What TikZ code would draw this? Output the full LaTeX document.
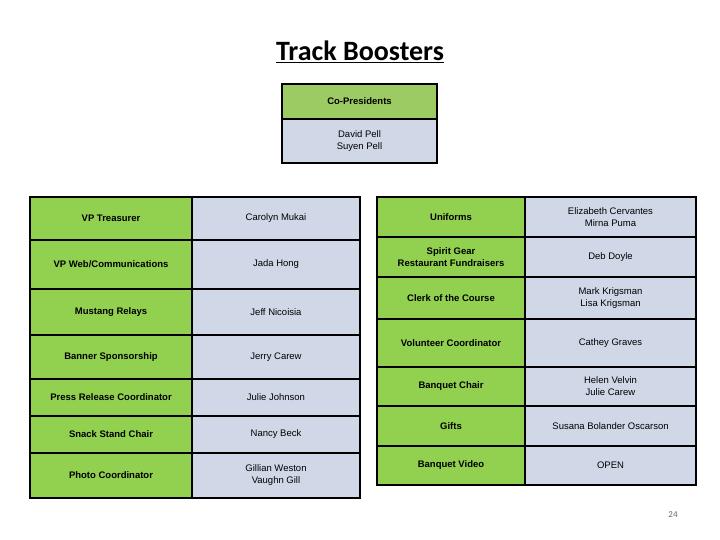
\documentclass[tikz,border=0pt]{standalone}
\usepackage{fontspec}
\setmainfont{Liberation Sans}
\newfontfamily\calib{Carlito}
\definecolor{green1}{HTML}{92D050}
\definecolor{green2}{HTML}{9BCB62}
\definecolor{blue1}{HTML}{D0D8E8}
\tikzset{
  tcell/.style={draw=black,line width=1.3pt,inner sep=0pt,align=center,font=\fontsize{9.5}{12}\selectfont},
  trole/.style={tcell,fill=green1,font=\fontsize{9.5}{12}\selectfont\bfseries},
  tpers/.style={tcell,fill=blue1}}
\newcommand{\lrow}[5]{%
  \node[trole,minimum width=162pt,minimum height={#2pt-#1pt}] (l#5a) at (111,{(#1+#2)/2}) {#3};
  \node[tpers,minimum width=168pt,minimum height={#2pt-#1pt}] (l#5b) at (276,{(#1+#2)/2}) {#4};}
\newcommand{\rrow}[5]{%
  \node[trole,minimum width=148pt,minimum height={#2pt-#1pt}] (r#5a) at (451,{(#1+#2)/2}) {#3};
  \node[tpers,minimum width=171pt,minimum height={#2pt-#1pt}] (r#5b) at (610.5,{(#1+#2)/2}) {#4};}
\begin{document}
\begin{tikzpicture}[x=1pt,y=-1pt]
\useasboundingbox (0,0) rectangle (720,540);
\node[font=\calib\fontsize{28}{32}\selectfont\bfseries] (title) at (360,52) {\underline{Track Boosters}};
\node[trole,fill=green2,minimum width=155pt,minimum height=35pt] (cp) at (359.5,101.5) {Co-Presidents};
\node[tpers,minimum width=155pt,minimum height=44pt] (cpn) at (359.5,141) {David Pell\\Suyen Pell};
\lrow{197}{240}{VP Treasurer}{Carolyn Mukai}{1}
\lrow{240}{289}{VP Web/Communications}{Jada Hong}{2}
\lrow{289}{335}{Mustang Relays}{Jeff Nicoisia}{3}
\lrow{335}{379}{Banner Sponsorship}{Jerry Carew}{4}
\lrow{379}{416}{Press Release Coordinator}{Julie Johnson}{5}
\lrow{416}{453}{Snack Stand Chair}{Nancy Beck}{6}
\lrow{453}{498}{Photo Coordinator}{Gillian Weston\\Vaughn Gill}{7}
\rrow{197}{237}{Uniforms}{Elizabeth Cervantes\\Mirna Puma}{1}
\rrow{237}{277}{Spirit Gear\\Restaurant Fundraisers}{Deb Doyle}{2}
\rrow{277}{319}{Clerk of the Course}{Mark Krigsman\\Lisa Krigsman}{3}
\rrow{319}{367}{Volunteer Coordinator}{Cathey Graves}{4}
\rrow{367}{406}{Banquet Chair}{Helen Velvin\\Julie Carew}{5}
\rrow{406}{446}{Gifts}{Susana Bolander Oscarson}{6}
\rrow{446}{485}{Banquet Video}{OPEN}{7}
\node[font=\calib\fontsize{9}{10}\selectfont,text=gray!80!black] (pg) at (673,515) {24};
\end{tikzpicture}
\end{document}
